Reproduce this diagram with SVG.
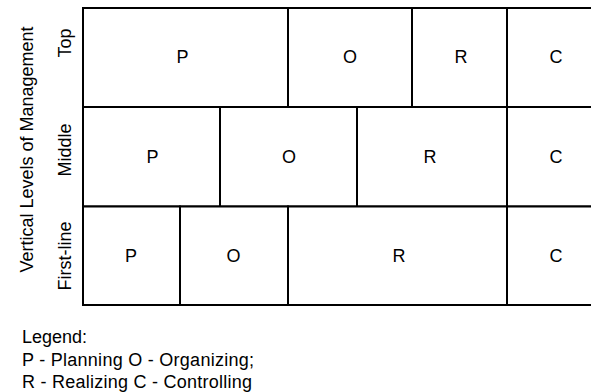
<svg xmlns="http://www.w3.org/2000/svg" width="591" height="392" viewBox="0 0 591 392">
<style>
.cell{fill:#fff;stroke:#000;stroke-width:2}
text{font-family:"Liberation Sans",Arial,sans-serif;font-size:18px;fill:#000}
.c{text-anchor:middle}
</style>
<rect width="591" height="392" fill="#fff"/>
<g id="row-top">
<g id="top-P"><rect class="cell" x="83" y="8" width="205" height="99"/><text class="c" x="182.5" y="63">P</text></g>
<g id="top-O"><rect class="cell" x="288" y="8" width="124" height="99"/><text class="c" x="350" y="63">O</text></g>
<g id="top-R"><rect class="cell" x="412" y="8" width="95" height="99"/><text class="c" x="461" y="63">R</text></g>
<g id="top-C"><rect class="cell" x="507" y="8" width="110" height="99"/><text class="c" x="556" y="63">C</text></g>
</g>
<g id="row-middle">
<g id="mid-P"><rect class="cell" x="83" y="107" width="137" height="99.5"/><text class="c" x="152.5" y="163">P</text></g>
<g id="mid-O"><rect class="cell" x="220" y="107" width="137" height="99.5"/><text class="c" x="289" y="163">O</text></g>
<g id="mid-R"><rect class="cell" x="357" y="107" width="150" height="99.5"/><text class="c" x="430" y="163">R</text></g>
<g id="mid-C"><rect class="cell" x="507" y="107" width="110" height="99.5"/><text class="c" x="556" y="163">C</text></g>
</g>
<g id="row-first">
<g id="first-P"><rect class="cell" x="83" y="206.5" width="97" height="98.5"/><text class="c" x="131" y="262">P</text></g>
<g id="first-O"><rect class="cell" x="180" y="206.5" width="108" height="98.5"/><text class="c" x="233.5" y="262">O</text></g>
<g id="first-R"><rect class="cell" x="288" y="206.5" width="219" height="98.5"/><text class="c" x="399" y="262">R</text></g>
<g id="first-C"><rect class="cell" x="507" y="206.5" width="110" height="98.5"/><text class="c" x="556" y="262">C</text></g>
</g>
<g id="connectors"></g>
<g id="axis-label"><text class="c" transform="translate(33,149.5) rotate(-90)">Vertical Levels of Management</text></g>
<g id="level-labels">
<text class="c" transform="translate(71,43) rotate(-90)">Top</text>
<text class="c" transform="translate(71,150) rotate(-90)">Middle</text>
<text class="c" transform="translate(71,256) rotate(-90)">First-line</text>
</g>
<g id="legend">
<text x="22" y="343">Legend:</text>
<text x="22" y="365.5" textLength="232" lengthAdjust="spacing">P - Planning O - Organizing;</text>
<text x="22" y="387.5" textLength="230" lengthAdjust="spacing">R - Realizing C - Controlling</text>
</g>
</svg>
